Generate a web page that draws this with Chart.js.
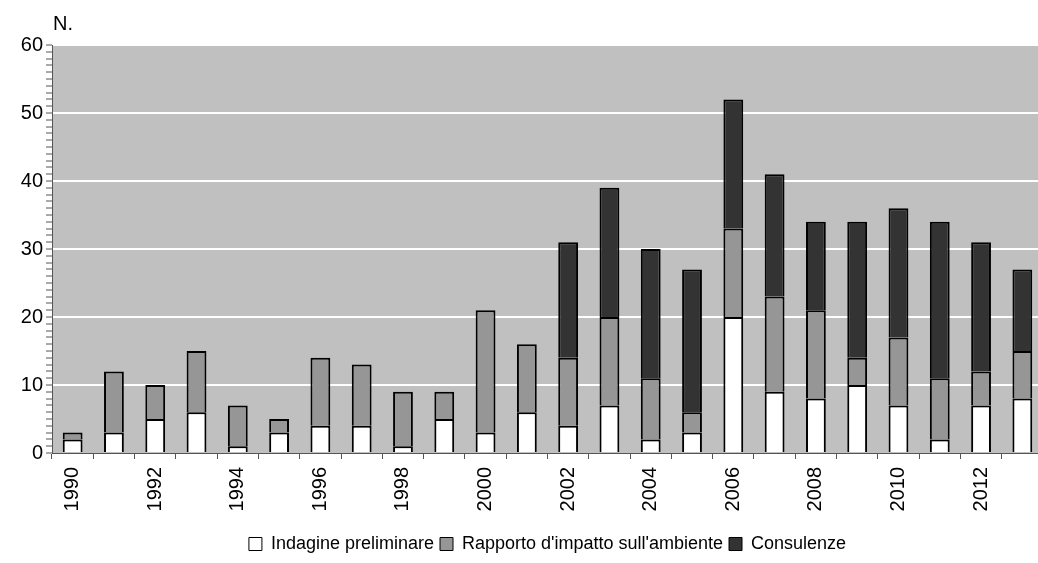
<!DOCTYPE html>
<html>
<head>
<meta charset="utf-8">
<script src="https://cdn.jsdelivr.net/npm/chart.js@4/dist/chart.umd.min.js"></script>
<style>
  html, body { margin: 0; padding: 0; background: #fff; overflow: hidden; }
  #wrap { width: 1044px; height: 563px; }
</style>
</head>
<body>
<div id="wrap"><canvas id="c" width="1044" height="563"></canvas></div>
<script>
const years = ['1990','1991','1992','1993','1994','1995','1996','1997','1998','1999','2000','2001',
               '2002','2003','2004','2005','2006','2007','2008','2009','2010','2011','2012','2013'];
const indagine   = [2, 3, 5, 6, 1, 3, 4, 4, 1, 5, 3, 6, 4, 7, 2, 3, 20, 9, 8, 10, 7, 2, 7, 8];
const rapporto   = [1, 9, 5, 9, 6, 2, 10, 9, 8, 4, 18, 10, 10, 13, 9, 3, 13, 14, 13, 4, 10, 9, 5, 7];
const consulenze = [null, null, null, null, null, null, null, null, null, null, null, null,
                    17, 19, 19, 21, 19, 18, 13, 20, 19, 23, 19, 12];
const seriesNames = ['Indagine preliminare', "Rapporto d'impatto sull'ambiente", 'Consulenze'];
const yTitle = 'N.';

const FONT = "'Liberation Sans', Arial, sans-serif";

const bgPlugin = {
  id: 'bg',
  beforeDraw(chart) {
    const a = chart.chartArea, ctx = chart.ctx;
    ctx.save();
    ctx.fillStyle = '#c0c0c0';
    ctx.fillRect(a.left, a.top, a.right - a.left, a.bottom - a.top);
    ctx.restore();
  },
  afterDraw(chart) {
    const ctx = chart.ctx;
    ctx.save();
    ctx.fillStyle = '#000';
    ctx.font = '20px ' + FONT;
    ctx.textBaseline = 'alphabetic';
    ctx.textAlign = 'left';
    ctx.fillText(yTitle, 53, 30);
    ctx.restore();
  }
};

const common = { borderColor: '#000', borderWidth: 2, barPercentage: 0.48, categoryPercentage: 1 };

new Chart(document.getElementById('c'), {
  type: 'bar',
  data: {
    labels: years,
    datasets: [
      Object.assign({ label: seriesNames[0], data: indagine, backgroundColor: '#ffffff' }, common),
      Object.assign({ label: seriesNames[1], data: rapporto, backgroundColor: '#969696' }, common),
      Object.assign({ label: seriesNames[2], data: consulenze, backgroundColor: '#333333' }, common)
    ]
  },
  options: {
    responsive: false,
    animation: false,
    layout: { padding: { top: 45, bottom: 0, right: 1, left: 0 } },
    plugins: {
      tooltip: { enabled: false },
      legend: {
        position: 'bottom',
        fullSize: false,
        labels: {
          font: { family: FONT, size: 18 },
          color: '#000',
          boxWidth: 13,
          boxHeight: 13,
          padding: 6,
          generateLabels(chart) {
            return chart.data.datasets.map((ds, i) => ({
              text: ds.label,
              fillStyle: ds.backgroundColor,
              strokeStyle: '#000',
              lineWidth: 1,
              hidden: false,
              datasetIndex: i,
              fontColor: '#000'
            }));
          }
        }
      }
    },
    scales: {
      x: {
        stacked: true,
        afterFit(scale) { scale.height = 76; scale.paddingRight = 0; scale.paddingLeft = 0; },
        grid: {
          offset: true,
          drawOnChartArea: false,
          drawTicks: true,
          tickLength: 6,
          tickColor: '#555',
          tickWidth: 1
        },
        border: { color: '#555', width: 1 },
        ticks: {
          autoSkip: false,
          maxRotation: 90,
          minRotation: 90,
          padding: 8,
          color: '#000',
          font: { family: FONT, size: 20 },
          callback(v, i) { return (parseInt(years[i]) % 2 === 0) ? years[i] : ''; }
        }
      },
      y: {
        stacked: true,
        min: 0,
        max: 60,
        afterFit(scale) { scale.width = 52; },
        grid: {
          drawTicks: true,
          tickLength: 6,
          color(ctx) { return (ctx.tick && ctx.tick.value % 10 === 0 && ctx.tick.value !== 0) ? '#ffffff' : 'rgba(0,0,0,0)'; },
          lineWidth: 2,
          tickColor: '#555',
          tickWidth: 1
        },
        border: { color: '#555', width: 1 },
        ticks: {
          stepSize: 1,
          autoSkip: false,
          padding: 3,
          color: '#000',
          font: { family: FONT, size: 20 },
          callback(v) { return v % 10 === 0 ? String(v) : ''; }
        }
      }
    }
  },
  plugins: [bgPlugin]
});
</script>
</body>
</html>
